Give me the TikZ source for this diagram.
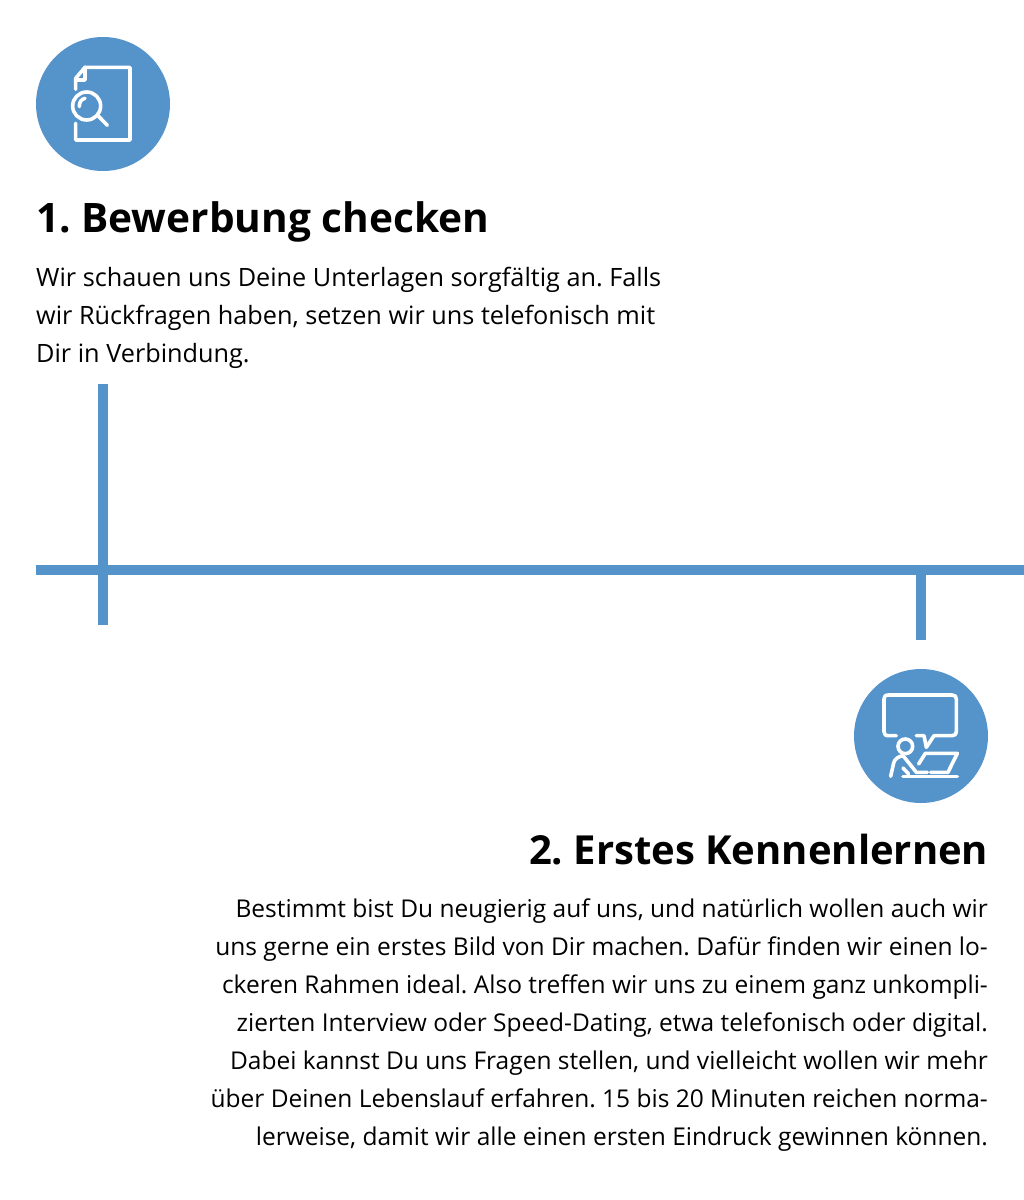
\documentclass[tikz,border=0pt]{standalone}
\usepackage{fontspec}
\setmainfont{Open Sans}
\usetikzlibrary{positioning,calc}
\definecolor{stepblue}{HTML}{5593CB}
\frenchspacing
\tikzset{
  stepcircle/.style={circle,fill=stepblue,minimum size=134pt,inner sep=0pt},
  steptitle/.style={font=\fontsize{40}{48}\selectfont\bfseries,inner sep=0pt},
  steptext/.style={font=\fontsize{#1}{38}\selectfont,inner sep=0pt},
  timeline/.style={draw=stepblue,line width=10pt},
  icon/.style={draw=white,line width=3.6pt,line cap=round,line join=round},
}
\begin{document}
\begin{tikzpicture}[x=1pt,y=-1pt]
    \useasboundingbox (0,0) rectangle (1024,1200);

    \node (c1) [stepcircle] at (103,104) {};
    \node (t1) [steptitle,font=\fontsize{40.6}{48}\selectfont\bfseries,anchor=base west] at (36,232) {1. Bewerbung checken};
    \node (b1) [steptext=25.25,anchor=north west,align=left] at (36,267) {Wir schauen uns Deine Unterlagen sorgfältig an. Falls\\wir Rückfragen haben, setzen wir uns telefonisch mit\\Dir in Verbindung.};

    \node (c2) [stepcircle] at (921,736) {};
    \node (t2) [steptitle,anchor=base east] at (988.5,864) {2. Erstes Kennenlernen};
    \node (b2) [steptext=24.5,anchor=north east,align=right] at (988,899) {Bestimmt bist Du neugierig auf uns, und natürlich wollen auch wir\\uns gerne ein erstes Bild von Dir machen. Dafür finden wir einen lo-\\ckeren Rahmen ideal. Also treffen wir uns zu einem ganz unkompli-\\zierten Interview oder Speed-Dating, etwa telefonisch oder digital.\\Dabei kannst Du uns Fragen stellen, und vielleicht wollen wir mehr\\über Deinen Lebenslauf erfahren. 15 bis 20 Minuten reichen norma-\\lerweise, damit wir alle einen ersten Eindruck gewinnen können.};

    \coordinate (a1) at (103,384);
    \coordinate (a2) at (103,624.5);
    \coordinate (h1) at (36,570);
    \coordinate (h2) at (1024,570);
    \coordinate (d1) at (921,570);
    \coordinate (d2) at (921,639.5);
    \draw[timeline] (a1) -- (a2);
    \draw[timeline] (h1) -- (h2);
    \draw[timeline] (d1) -- (d2);

    % icon 1
    \begin{scope}[shift={(30,30)},x=0.3333pt,y=-0.3333pt]
        \draw[icon] (137,178) -- (137,145) -- (165,112) -- (300,112) -- (300,330) -- (137,330) -- (137,280);
        \draw[icon] (165,112) -- (165,150) -- (137,150);
        \draw[icon] (170,228) circle (42);
        \draw[icon] (205,258) -- (232,286);
        \draw[icon] (148,230) .. controls (148,216) and (153,208) .. (165,205);
    \end{scope}

    % icon 2
    \begin{scope}[shift={(848,664)},x=0.3333pt,y=-0.3333pt]
        \draw[icon] (145,215) -- (122,215) .. controls (112,215) and (108,211) .. (108,203) -- (108,105) .. controls (108,97) and (112,93) .. (122,93) -- (312,93) .. controls (321,93) and (325,97) .. (325,105) -- (325,203) .. controls (325,211) and (321,215) .. (312,215) -- (258,215) -- (235,250) -- (228,215) -- (205,215);
        \draw[icon] (172,247) circle (22);
        \draw[icon] (128,337) -- (137,297) .. controls (140,285) and (150,278) .. (165,275) -- (205,325) -- (238,325);
        \draw[icon] (165,312) -- (182,330);
        \draw[icon] (212,300) -- (232,268) -- (328,268) -- (300,325) -- (248,325);
        \draw[icon] (165,338) -- (328,338);
    \end{scope}

\end{tikzpicture}
\end{document}
